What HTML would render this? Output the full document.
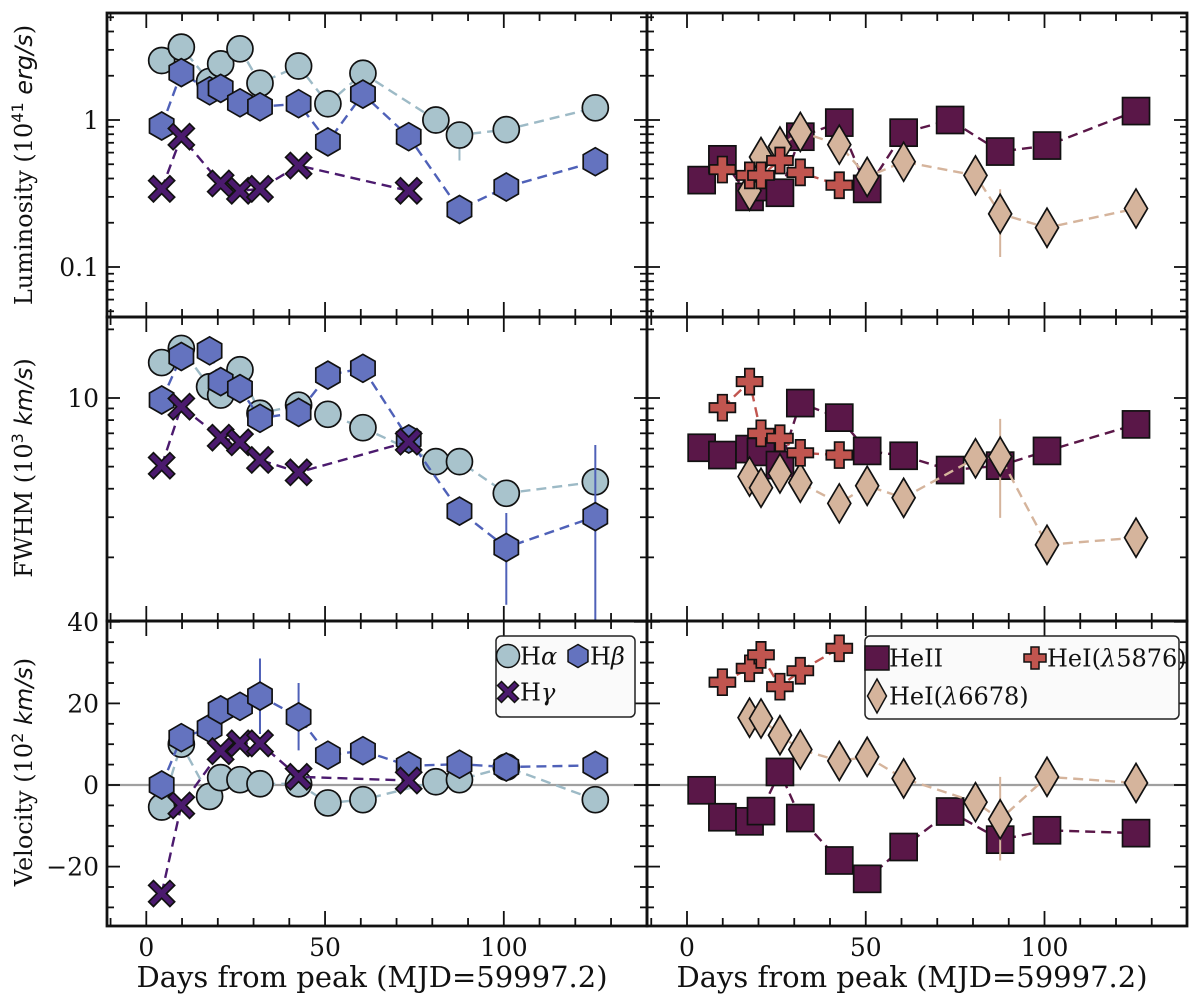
<!DOCTYPE html>
<html><head><meta charset="utf-8"><style>
html,body{margin:0;padding:0;background:#fff}
svg{display:block}
text{font-family:"DejaVu Serif","Liberation Serif",serif;fill:#111}
</style></head><body>
<svg id="chart" width="1200" height="996" viewBox="0 0 1200 996" xmlns="http://www.w3.org/2000/svg"></svg>
<script>
// ---------- DATA ----------
const haDays = [4.3, 9.8, 17.7, 20.8, 26.2, 31.8, 42.6, 50.8, 60.6, 81.0, 87.6, 100.7, 125.6];
const haLum = [2.54, 3.13, 1.83, 2.41, 3.05, 1.78, 2.33, 1.29, 2.08, 1.0, 0.79, 0.86, 1.21];
const haFwhm = [14.3, 16.5, 11.2, 10.3, 13.3, 8.57, 9.3, 8.48, 7.41, 5.26, 5.26, 3.82, 4.29];
const haVel = [-5.4, 10.0, -2.8, 1.8, 1.3, 0.3, 0.3, -4.4, -3.6, 0.8, 1.3, 4.4, -3.6];

const hbDays = [4.3, 9.8, 17.7, 20.8, 26.2, 31.8, 42.6, 50.8, 60.6, 73.4, 87.6, 100.7, 125.6];
const hbLum = [0.91, 2.10, 1.58, 1.64, 1.31, 1.23, 1.29, 0.71, 1.50, 0.77, 0.246, 0.35, 0.52];
const hbFwhm = [9.8, 15.2, 16.1, 11.8, 11.0, 8.15, 8.65, 12.6, 13.5, 6.61, 3.19, 2.21, 3.02];
const hbVel = [0.0, 11.6, 13.9, 18.4, 19.3, 21.8, 16.7, 7.3, 8.4, 4.7, 5.1, 4.4, 4.8];

const hgDays = [4.3, 9.8, 20.8, 26.2, 31.8, 42.6, 73.4];
const hgLum = [0.34, 0.77, 0.37, 0.33, 0.34, 0.49, 0.33];
const hgFwhm = [5.05, 9.16, 6.7, 6.39, 5.35, 4.72, 6.43];
const hgVel = [-26.6, -5.0, 8.3, 10.2, 10.2, 2.0, 1.1];

const he2Days = [4.1, 9.9, 17.5, 20.7, 26.0, 31.7, 42.6, 50.4, 60.6, 73.6, 87.6, 100.7, 125.6];
const he2Lum = [0.39, 0.54, 0.30, 0.35, 0.32, 0.77, 0.96, 0.34, 0.82, 1.0, 0.61, 0.67, 1.15];
const he2Fwhm = [6.05, 5.62, 5.97, 5.8, 5.08, 9.5, 8.2, 5.86, 5.58, 4.83, 5.05, 5.86, 7.66];
const he2Vel = [-1.3, -7.9, -8.9, -6.4, 3.2, -8.1, -18.5, -23.0, -15.2, -6.5, -13.4, -11.1, -11.8];

const he5876Days = [9.9, 17.5, 20.7, 26.0, 31.7, 42.6];
const he5876Lum = [0.46, 0.42, 0.42, 0.53, 0.44, 0.36];
const he5876Fwhm = [9.07, 11.8, 7.0, 6.66, 5.75, 5.62];
const he5876Vel = [25.2, 28.6, 31.9, 24.1, 28.0, 33.5];

const he6678Days = [17.5, 20.7, 26.0, 31.7, 42.6, 50.4, 60.6, 80.7, 87.6, 100.7, 125.6];
const he6678Lum = [0.33, 0.56, 0.66, 0.83, 0.68, 0.41, 0.52, 0.42, 0.23, 0.185, 0.25];
const he6678Fwhm = [4.52, 4.04, 4.67, 4.25, 3.45, 4.12, 3.65, 5.44, 5.53, 2.27, 2.44];
const he6678Vel = [16.5, 16.3, 12.2, 8.7, 5.9, 6.9, 1.6, -4.2, -8.4, 2.0, 0.5];

// error bars: [day, low, high]
const haLumErr = [[87.6, 0.53, 0.82]];
const hbFwhmErr = [[100.7, 1.24, 3.13], [125.6, 0.5, 6.22]];
const hbVelErr = [[31.8, 12.5, 31], [42.6, 8.5, 25]];
const he6678LumErr = [[87.6, 0.117, 0.338], [100.7, 0.134, 0.2]];
const he6678FwhmErr = [[87.6, 2.98, 8.1]];
const he2FwhmErr = [[125.6, 7.0, 8.4]];
const he6678VelErr = [[87.6, -18.5, 2.0]];

const xTicksMajor = [0, 50, 100];
const xTickLabels = ["0", "50", "100"];

// ---------- LAYOUT ----------
const NS = "http://www.w3.org/2000/svg";
const svg = document.getElementById('chart');
const cols = [{x0: 107, x1: 647, zero: 146.3}, {x0: 647, x1: 1187, zero: 687}];
const PXD = 3.575;
const rows = [{y0: 13, y1: 317}, {y0: 317, y1: 621}, {y0: 621, y1: 926}];
function xs(c, d) { return cols[c].zero + PXD * d; }
const yFns = [
  v => 120 - 147 * Math.log10(v),
  v => 398 - 228 * Math.log10(v / 10),
  v => 785 - 4.08 * v
];

function el(tag, attrs, parent) {
  const e = document.createElementNS(NS, tag);
  for (const k in attrs) e.setAttribute(k, attrs[k]);
  (parent || svg).appendChild(e);
  return e;
}

const defs = el('defs', {});
for (let c = 0; c < 2; c++) for (let r = 0; r < 3; r++) {
  const cp = el('clipPath', {id: 'clip' + c + r}, defs);
  el('rect', {x: cols[c].x0, y: rows[r].y0, width: cols[c].x1 - cols[c].x0, height: rows[r].y1 - rows[r].y0}, cp);
}

for (let c = 0; c < 2; c++) {
  const z = el('line', {x1: cols[c].x0, x2: cols[c].x1, y1: yFns[2](0), y2: yFns[2](0), stroke: '#a0a0a0', 'stroke-width': 2.2});
  
  
}

function marker(g, shape, x, y, fill) {
  const st = {fill: fill, stroke: '#111', 'stroke-width': 1.7};
  let m;
  if (shape === 'circle') m = el('circle', Object.assign({cx: x, cy: y, r: 13}, st), g);
  else if (shape === 'hex') {
    const r = 14, pts = [];
    for (let i = 0; i < 6; i++) { const a = Math.PI / 2 + i * Math.PI / 3; pts.push((x + r * Math.cos(a)).toFixed(1) + ',' + (y - r * Math.sin(a)).toFixed(1)); }
    m = el('polygon', Object.assign({points: pts.join(' ')}, st), g);
  } else if (shape === 'x') {
    const a = 13, w = 4.8;
    const pts = [[-a, -a + w], [-a + w, -a], [0, -w], [a - w, -a], [a, -a + w], [w, 0], [a, a - w], [a - w, a], [0, w], [-a + w, a], [-a, a - w], [-w, 0]];
    m = el('polygon', Object.assign({points: pts.map(q => (x + q[0]) + ',' + (y + q[1])).join(' ')}, st), g);
  } else if (shape === 'square') {
    m = el('rect', Object.assign({x: x - 13.5, y: y - 13.5, width: 27, height: 27}, st), g);
  } else if (shape === 'plus') {
    const a = 13, w = 4.7;
    const pts = [[-w, -a], [w, -a], [w, -w], [a, -w], [a, w], [w, w], [w, a], [-w, a], [-w, w], [-a, w], [-a, -w], [-w, -w]];
    m = el('polygon', Object.assign({points: pts.map(q => (x + q[0]) + ',' + (y + q[1])).join(' ')}, st), g);
  } else if (shape === 'diamond') {
    m = el('polygon', Object.assign({points: `${x},${y - 19.5} ${x + 11.5},${y} ${x},${y + 19.5} ${x - 11.5},${y}`}, st), g);
  }
  return m;
}

function series(c, r, name, days, vals, shape, fill, lineColor, errs) {
  const g = el('g', {'clip-path': `url(#clip${c}${r})`});
  
  
  const pts = days.map((d, i) => xs(c, d).toFixed(1) + ',' + yFns[r](vals[i]).toFixed(1));
  const ln = el('polyline', {points: pts.join(' '), fill: 'none', stroke: lineColor, 'stroke-width': 2.4, 'stroke-dasharray': '10,6'}, g);
  
  
  (errs || []).forEach(e => {
    const eb = el('line', {x1: xs(c, e[0]), x2: xs(c, e[0]), y1: yFns[r](e[1]), y2: yFns[r](e[2]), stroke: lineColor, 'stroke-width': 2}, g);
    
    
  });
  days.forEach((d, i) => {
    const m = marker(g, shape, xs(c, d), yFns[r](vals[i]), fill);
    
    
  });
}

const C = {ha: '#a8c3cc', haL: '#9dbac6', hb: '#6473bf', hbL: '#4f61b8', hg: '#4b1a6e', he2: '#5a1748', he5: '#c1554f', he6: '#d5b49c'};

series(0, 0, 'h-alpha-luminosity', haDays, haLum, 'circle', C.ha, C.haL, haLumErr);
series(0, 0, 'h-beta-luminosity', hbDays, hbLum, 'hex', C.hb, C.hbL);
series(0, 0, 'h-gamma-luminosity', hgDays, hgLum, 'x', C.hg, C.hg);
series(0, 1, 'h-alpha-fwhm', haDays, haFwhm, 'circle', C.ha, C.haL);
series(0, 1, 'h-beta-fwhm', hbDays, hbFwhm, 'hex', C.hb, C.hbL, hbFwhmErr);
series(0, 1, 'h-gamma-fwhm', hgDays, hgFwhm, 'x', C.hg, C.hg);
series(0, 2, 'h-alpha-velocity', haDays, haVel, 'circle', C.ha, C.haL);
series(0, 2, 'h-beta-velocity', hbDays, hbVel, 'hex', C.hb, C.hbL, hbVelErr);
series(0, 2, 'h-gamma-velocity', hgDays, hgVel, 'x', C.hg, C.hg);
series(1, 0, 'heii-luminosity', he2Days, he2Lum, 'square', C.he2, C.he2);
series(1, 0, 'hei-6678-luminosity', he6678Days, he6678Lum, 'diamond', C.he6, C.he6, he6678LumErr);
series(1, 0, 'hei-5876-luminosity', he5876Days, he5876Lum, 'plus', C.he5, C.he5);
series(1, 1, 'heii-fwhm', he2Days, he2Fwhm, 'square', C.he2, C.he2, he2FwhmErr);
series(1, 1, 'hei-6678-fwhm', he6678Days, he6678Fwhm, 'diamond', C.he6, C.he6, he6678FwhmErr);
series(1, 1, 'hei-5876-fwhm', he5876Days, he5876Fwhm, 'plus', C.he5, C.he5);
series(1, 2, 'heii-velocity', he2Days, he2Vel, 'square', C.he2, C.he2);
series(1, 2, 'hei-6678-velocity', he6678Days, he6678Vel, 'diamond', C.he6, C.he6, he6678VelErr);
series(1, 2, 'hei-5876-velocity', he5876Days, he5876Vel, 'plus', C.he5, C.he5);

function tick(x1, y1, x2, y2) { el('line', {x1, y1, x2, y2, stroke: '#111', 'stroke-width': 1.8}); }
function yTicks(r, majors, minors) {
  for (let c = 0; c < 2; c++) {
    const {x0, x1} = cols[c];
    majors.forEach(v => { const y = yFns[r](v); if (y < rows[r].y0 - 1 || y > rows[r].y1 + 1) return; tick(x0, y, x0 + 13, y); tick(x1, y, x1 - 13, y); });
    minors.forEach(v => { const y = yFns[r](v); if (y < rows[r].y0 || y > rows[r].y1) return; tick(x0, y, x0 + 7, y); tick(x1, y, x1 - 7, y); });
  }
}
const logMin = []; [0.01, 0.1, 1].forEach(b => { for (let k = 2; k <= 9; k++) logMin.push(b * k); });
yTicks(0, [0.1, 1, 10], logMin);
const fwMin = [2, 3, 4, 5, 6, 7, 8, 9, 20];
yTicks(1, [1, 10], fwMin);
const velMin = []; for (let v = -35; v <= 40; v += 5) if (v % 20 !== 0) velMin.push(v);
yTicks(2, [-20, 0, 20, 40], velMin);
for (let c = 0; c < 2; c++) for (let r = 0; r < 3; r++) {
  for (let d = -10; d <= 140; d += 10) {
    const x = xs(c, d); if (x < cols[c].x0 + 1 || x > cols[c].x1 - 1) continue;
    const L = d % 50 === 0 ? 15 : 8;
    tick(x, rows[r].y0, x, rows[r].y0 + L); tick(x, rows[r].y1, x, rows[r].y1 - L);
  }
}
for (let c = 0; c < 2; c++) for (let r = 0; r < 3; r++) {
  const f = el('rect', {x: cols[c].x0, y: rows[r].y0, width: cols[c].x1 - cols[c].x0, height: rows[r].y1 - rows[r].y0, fill: 'none', stroke: '#111', 'stroke-width': 2.8});
  
  
}

function txt(x, y, s, attrs, name) {
  const t = el('text', Object.assign({x, y, 'font-size': 25}, attrs || {}));
  t.textContent = s;
  
  
  return t;
}
[[0, 1, '1'], [0, 0.1, '0.1'], [1, 10, '10'], [2, 40, '40'], [2, 20, '20'], [2, 0, '0'], [2, -20, '\u221220']].forEach(a => {
  txt(99, yFns[a[0]](a[1]) + 9, a[2], {'text-anchor': 'end'}, 'y-tick-label');
});
for (let c = 0; c < 2; c++) xTicksMajor.forEach((d, i) => txt(xs(c, d), 956, xTickLabels[i], {'text-anchor': 'middle'}, 'x-tick-label'));
txt(372, 987, 'Days from peak (MJD=59997.2)', {'text-anchor': 'middle', 'font-size': 29}, 'x-axis-title');
txt(912, 987, 'Days from peak (MJD=59997.2)', {'text-anchor': 'middle', 'font-size': 29}, 'x-axis-title');
</script>
<script>
(function(){
const svg = document.getElementById('chart');
const NS = "http://www.w3.org/2000/svg";
function ylab(cy, name, main, sup, unit) {
  const t = document.createElementNS(NS, 'text');
  t.setAttribute('transform', `translate(32,${cy}) rotate(-90)`);
  t.setAttribute('text-anchor', 'middle');
  t.setAttribute('font-size', '24');
  
  
  t.innerHTML = `${main} (10<tspan dy="-9" font-size="16" style="font-family:'DejaVu Sans',sans-serif">${sup}</tspan><tspan dy="9" font-style="italic" style="font-family:'DejaVu Sans',sans-serif"> ${unit}</tspan>)`;
  svg.appendChild(t);
}
ylab(165, 'luminosity-axis-title', 'Luminosity', '41', 'erg/s');
ylab(468, 'fwhm-axis-title', 'FWHM', '3', 'km/s');
ylab(772, 'velocity-axis-title', 'Velocity', '2', 'km/s');
})();
</script>
<script>
(function(){
const svg = document.getElementById('chart');
const NS = "http://www.w3.org/2000/svg";
function el(tag, attrs, parent){const e=document.createElementNS(NS,tag);for(const k in attrs)e.setAttribute(k,attrs[k]);(parent||svg).appendChild(e);return e;}
function legend(x, y, w, h, name, entries) {
  const g = el('g', {});
  
  
  el('rect', {x, y, width: w, height: h, rx: 5, fill: '#fafafa', stroke: '#222', 'stroke-width': 1.5}, g);
  entries.forEach(e => {
    const st = {fill: e.fill, stroke: '#111', 'stroke-width': 1.5};
    const mx = e.x, my = e.y, r = 11.5;
    let m;
    if (e.shape === 'circle') m = el('circle', Object.assign({cx: mx, cy: my, r: r}, st), g);
    else if (e.shape === 'hex') { const p=[]; for(let i=0;i<6;i++){const a=Math.PI/2+i*Math.PI/3;p.push((mx+r*Math.cos(a))+','+(my-r*Math.sin(a)));} m = el('polygon', Object.assign({points:p.join(' ')}, st), g); }
    else if (e.shape === 'x') { const a=10.5,w=4; const pts=[[-a,-a+w],[-a+w,-a],[0,-w],[a-w,-a],[a,-a+w],[w,0],[a,a-w],[a-w,a],[0,w],[-a+w,a],[-a,a-w],[-w,0]]; m = el('polygon', Object.assign({points: pts.map(q=>(mx+q[0])+','+(my+q[1])).join(' ')}, st), g); }
    else if (e.shape === 'square') m = el('rect', Object.assign({x: mx - 12, y: my - 12, width: 24, height: 24}, st), g);
    else if (e.shape === 'plus') { const a=11,w=4; const pts=[[-w,-a],[w,-a],[w,-w],[a,-w],[a,w],[w,w],[w,a],[-w,a],[-w,w],[-a,w],[-a,-w],[-w,-w]]; m = el('polygon', Object.assign({points: pts.map(q=>(mx+q[0])+','+(my+q[1])).join(' ')}, st), g); }
    else if (e.shape === 'diamond') m = el('polygon', Object.assign({points: `${mx},${my-17} ${mx+9.5},${my} ${mx},${my+17} ${mx-9.5},${my}`}, st), g);
    
    
    const t = el('text', {x: mx + 12, y: my + 8.5, 'font-size': 24}, g);
    t.innerHTML = e.label;
    
    
  });
}
legend(496, 636, 139, 81, 'legend-hydrogen', [
  {shape: 'circle', fill: '#a8c3cc', x: 508, y: 656, label: 'H<tspan font-style="italic">α</tspan>'},
  {shape: 'hex', fill: '#6473bf', x: 578, y: 656, label: 'H<tspan font-style="italic">β</tspan>'},
  {shape: 'x', fill: '#4b1a6e', x: 508, y: 692, label: 'H<tspan font-style="italic">γ</tspan>'}
]);
legend(865, 636, 314, 83, 'legend-helium', [
  {shape: 'square', fill: '#5a1748', x: 877, y: 658, label: 'HeII'},
  {shape: 'plus', fill: '#c1554f', x: 1035, y: 658, label: 'HeI(<tspan font-style="italic">λ</tspan>5876)'},
  {shape: 'diamond', fill: '#d5b49c', x: 877, y: 696, label: 'HeI(<tspan font-style="italic">λ</tspan>6678)'}
]);
})();
</script>
</body></html>
